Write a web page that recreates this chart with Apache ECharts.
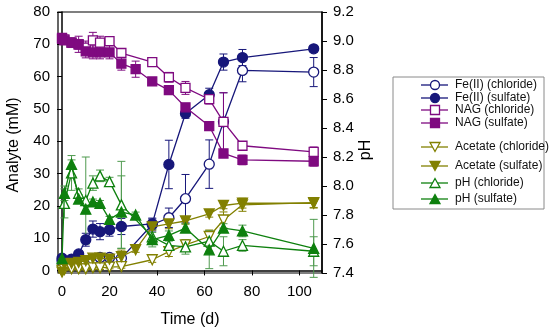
<!DOCTYPE html>
<html><head><meta charset="utf-8">
<script src="https://cdn.jsdelivr.net/npm/echarts@6/dist/echarts.min.js"></script>
<style>html,body{margin:0;padding:0;background:#fff}#c{width:550px;height:334px}</style>
</head><body><div id="c"></div>
<script>
// ---- data ----
const xTicks = [0, 20, 40, 60, 80, 100];
const yTicks = [0, 10, 20, 30, 40, 50, 60, 70, 80];
const pHTicks = [7.4, 7.6, 7.8, 8.0, 8.2, 8.4, 8.6, 8.8, 9.0, 9.2];

const feClT   = [0, 4, 7, 10, 13, 16, 20, 25, 38, 45, 52, 62, 68, 76, 106];
const feClY   = [3.0, 2.0, 2.5, 3.0, 3.5, 4.0, 4.0, 3.8, 14.2, 16.3, 22.2, 32.9, 46.0, 61.9, 61.4];
const feClE   = [0.5, 0.5, 0.5, 0.5, 0.8, 1, 1, 1, 2, 3, 7.5, 7.5, 9, 3.5, 4.5];

const feSuT   = [0, 4, 7, 10, 13, 16, 20, 25, 38, 45, 52, 62, 68, 76, 106];
const feSuY   = [3.8, 3.5, 5.1, 9.5, 12.8, 12.0, 12.6, 13.6, 14.4, 32.8, 48.6, 54.4, 64.5, 65.9, 68.6];
const feSuE   = [0.5, 0.5, 0.8, 2, 2.5, 2.5, 2, 2.5, 1.5, 7.5, 1.5, 2, 2.5, 2.5, 1];

const nagClT  = [0, 1, 4, 7, 10, 13, 16, 20, 25, 38, 45, 52, 62, 68, 76, 106];
const nagClY  = [72.0, 71.5, 70.5, 70.0, 69.0, 71.2, 70.5, 71.0, 67.3, 64.5, 59.8, 56.5, 53.0, 46.0, 38.6, 36.7];
const nagClE  = [1, 1, 1.5, 2.5, 2, 2.5, 2, 1, 1, 1, 1.5, 2, 1.5, 9, 1, 1.5];

const nagSuT  = [0, 1, 4, 7, 10, 13, 16, 20, 25, 31, 38, 45, 52, 62, 68, 76, 106];
const nagSuY  = [71.7, 71.2, 70.5, 70.0, 67.8, 67.5, 67.5, 67.5, 64.0, 62.3, 58.5, 55.8, 50.5, 44.7, 36.2, 34.2, 33.8];
const nagSuE  = [1, 1, 1, 1.5, 2, 2, 2, 2, 2, 2.5, 1, 1, 1, 1, 1, 1.5, 1.5];

const acClT   = [0, 1, 4, 7, 10, 13, 16, 20, 25, 38, 45, 52, 62, 68, 76, 106];
const acClY   = [0, 0.3, 0.5, 0.5, 0.5, 0.8, 0.8, 1.0, 1.2, 3.3, 5.8, 7.9, 10.5, 15.6, 20.3, 21.0];
const acClE   = [0.3, 0.3, 0.3, 0.3, 0.3, 0.5, 0.5, 0.5, 0.5, 0.8, 1.5, 1.5, 2, 2.5, 2, 1.5];

const acSuT   = [0, 1, 4, 7, 10, 13, 16, 20, 25, 31, 38, 45, 52, 62, 68, 76, 106];
const acSuY   = [-0.5, 2.0, 2.2, 2.5, 3.0, 3.8, 3.8, 3.5, 4.3, 6.4, 13.5, 14.4, 15.3, 17.5, 20.1, 20.8, 20.8];
const acSuE   = [0.3, 0.5, 0.5, 0.5, 0.5, 0.8, 0.8, 0.8, 2, 0.8, 1, 1.5, 1, 1, 1, 1.5, 1.5];

const phClT   = [1, 4, 7, 10, 13, 16, 20, 25, 38, 45, 52, 62, 68, 76, 106];
const phClY   = [7.88, 8.09, 7.95, 7.90, 8.02, 8.07, 8.03, 7.87, 7.65, 7.59, 7.58, 7.62, 7.55, 7.59, 7.55];
const phClE   = [0.1, 0.12, 0.03, 0.3, 0.05, 0.04, 0.03, 0.3, 0.05, 0.03, 0.05, 0.07, 0.1, 0.04, 0.1];

const phSuT   = [0, 1, 4, 7, 10, 13, 16, 20, 25, 31, 38, 45, 52, 62, 68, 76, 106];
const phSuY   = [7.50, 7.95, 8.15, 7.91, 7.84, 7.89, 7.88, 7.77, 7.82, 7.80, 7.63, 7.66, 7.71, 7.56, 7.71, 7.69, 7.57];
const phSuE   = [0.02, 0.05, 0.03, 0.03, 0.03, 0.02, 0.02, 0.02, 0.25, 0.02, 0.05, 0.03, 0.03, 0.13, 0.03, 0.04, 0.2];

const legendNames = ['Fe(II) (chloride)', 'Fe(II) (sulfate)', 'NAG (chloride)', 'NAG (sulfate)',
  'Acetate (chloride)', 'Acetate (sulfate)', 'pH (chloride)', 'pH (sulfate)'];

// ---- styles ----
const NAVY = '#17177a', PURP = '#7f0a80', OLIVE = '#828000', GREEN = '#0e800e', GREENL = '#4f9a4f';
const defs = [
  {name: legendNames[0], t: feClT, y: feClY, e: feClE, c: NAVY, ec: NAVY, sym: 'circle', size: 10, open: true, ax: 0},
  {name: legendNames[1], t: feSuT, y: feSuY, e: feSuE, c: NAVY, ec: NAVY, sym: 'circle', size: 10, open: false, ax: 0},
  {name: legendNames[2], t: nagClT, y: nagClY, e: nagClE, c: PURP, ec: PURP, sym: 'rect', size: 9, open: true, ax: 0},
  {name: legendNames[3], t: nagSuT, y: nagSuY, e: nagSuE, c: PURP, ec: PURP, sym: 'rect', size: 9, open: false, ax: 0},
  {name: legendNames[4], t: acClT, y: acClY, e: acClE, c: OLIVE, ec: OLIVE, sym: 'triangle', size: 10, rot: 180, open: true, ax: 0},
  {name: legendNames[5], t: acSuT, y: acSuY, e: acSuE, c: OLIVE, ec: OLIVE, sym: 'triangle', size: 10, rot: 180, open: false, ax: 0},
  {name: legendNames[6], t: phClT, y: phClY, e: phClE, c: GREEN, ec: GREENL, sym: 'triangle', size: 10, open: true, ax: 1},
  {name: legendNames[7], t: phSuT, y: phSuY, e: phSuE, c: GREEN, ec: GREENL, sym: 'triangle', size: 10, open: false, ax: 1}
];

const series = [];
defs.forEach((d, i) => {
  const pts = d.t.map((t, k) => [t, d.y[k]]);
  const errs = d.t.map((t, k) => [t, d.y[k], d.e[k]]);
  series.push({
    type: 'custom', yAxisIndex: d.ax, z: 2, silent: true,
    data: errs, encode: {x: 0, y: 1},
    renderItem: function (params, api) {
      const x = api.value(0), y = api.value(1), e = api.value(2);
      const a = api.coord([x, y + e]), b = api.coord([x, y - e]);
      const hw = 4;
      const st = {stroke: d.ec, lineWidth: 1};
      return {type: 'group', children: [
        {type: 'line', shape: {x1: a[0], y1: a[1], x2: b[0], y2: b[1]}, style: st},
        {type: 'line', shape: {x1: a[0] - hw, y1: a[1], x2: a[0] + hw, y2: a[1]}, style: st},
        {type: 'line', shape: {x1: b[0] - hw, y1: b[1], x2: b[0] + hw, y2: b[1]}, style: st}
      ]};
    }
  });
  series.push({
    type: 'line', name: d.name, yAxisIndex: d.ax, z: 3 + i,
    data: pts, symbol: d.sym, symbolSize: d.size, symbolRotate: d.rot || 0,
    showAllSymbol: true, animation: false,
    lineStyle: {color: d.c, width: 1.3},
    itemStyle: {color: d.open ? '#fff' : d.c, borderColor: d.c, borderWidth: 1.3}
  });
});

// ---- legend (drawn) ----
const lgX = 393, lgY = 77, rowY = [85, 98, 110, 123, 147, 166, 183, 199];
const lg = [{type: 'rect', shape: {x: lgX, y: lgY, width: 151, height: 132},
  style: {fill: '#fff', stroke: '#8a8a8a', lineWidth: 1}}];
defs.forEach((d, i) => {
  const cy = rowY[i], cx = 435;
  lg.push({type: 'line', shape: {x1: 421, y1: cy, x2: 448, y2: cy}, style: {stroke: d.c, lineWidth: 1.3}});
  const st = {fill: d.open ? '#fff' : d.c, stroke: d.c, lineWidth: 1.3};
  if (d.sym === 'circle') lg.push({type: 'circle', shape: {cx: cx, cy: cy, r: 4.5}, style: st});
  else if (d.sym === 'rect') lg.push({type: 'rect', shape: {x: cx - 4.5, y: cy - 4.5, width: 9, height: 9}, style: st});
  else if (d.rot) lg.push({type: 'polygon', shape: {points: [[cx - 5, cy - 4.5], [cx + 5, cy - 4.5], [cx, cy + 4.5]]}, style: st});
  else lg.push({type: 'polygon', shape: {points: [[cx - 5, cy + 4.5], [cx + 5, cy + 4.5], [cx, cy - 4.5]]}, style: st});
  lg.push({type: 'text', x: 455, y: cy, style: {text: d.name, fill: '#111', font: '12px Arial, "Liberation Sans"', textVerticalAlign: 'middle'}});
});

const font = 'Arial, "Liberation Sans", sans-serif';
const chart = echarts.init(document.getElementById('c'), null, {renderer: 'canvas'});
chart.setOption({
  animation: false,
  backgroundColor: '#fff',
  grid: {left: 58, right: 228, top: 12, bottom: 61, show: true, borderColor: '#000', borderWidth: 1.2, backgroundColor: 'transparent'},
  xAxis: {
    type: 'value', min: -1.7, max: 109.5,
    axisLine: {lineStyle: {color: '#000', width: 1.5}},
    axisTick: {show: true, length: 5, inside: false, customValues: xTicks, lineStyle: {color: '#000'}},
    axisLabel: {customValues: xTicks, margin: 11, color: '#000', fontSize: 15, fontFamily: font},
    splitLine: {show: false}
  },
  yAxis: [
    {type: 'value', min: -0.8, max: 80, position: 'left',
      axisLine: {show: true, lineStyle: {color: '#000', width: 1.5}},
      axisTick: {show: true, length: 5, customValues: yTicks, lineStyle: {color: '#000'}},
      axisLabel: {customValues: yTicks, margin: 8, color: '#000', fontSize: 15, fontFamily: font},
      splitLine: {show: false}},
    {type: 'value', min: 7.4, max: 9.2, position: 'right',
      axisLine: {show: true, lineStyle: {color: '#000', width: 1.5}},
      axisTick: {show: true, length: 5, customValues: pHTicks, lineStyle: {color: '#000'}},
      axisLabel: {customValues: pHTicks, margin: 11, color: '#000', fontSize: 15, fontFamily: font,
        formatter: v => v.toFixed(1)},
      splitLine: {show: false}}
  ],
  series: series,
  graphic: [
    {type: 'group', children: lg},
    {type: 'text', x: 190, y: 320, style: {text: 'Time (d)', font: '16px ' + font, fill: '#000', textAlign: 'center', textVerticalAlign: 'middle'}},
    {type: 'text', x: 14, y: 145, rotation: Math.PI / 2, style: {text: 'Analyte (mM)', font: '16px ' + font, fill: '#000', textAlign: 'center', textVerticalAlign: 'middle'}},
    {type: 'text', x: 366, y: 150, rotation: Math.PI / 2, style: {text: 'pH', font: '16px ' + font, fill: '#000', textAlign: 'center', textVerticalAlign: 'middle'}}
  ]
});
</script></body></html>
